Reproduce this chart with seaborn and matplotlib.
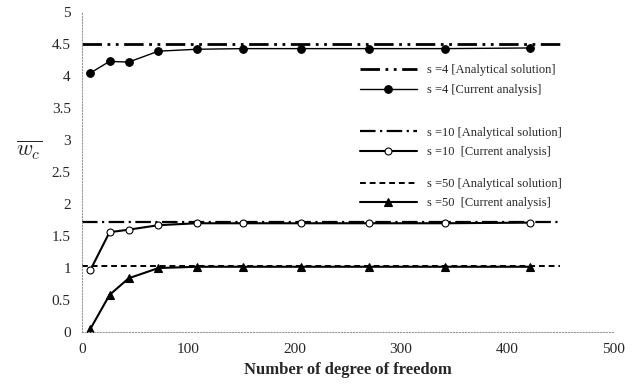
"""Convergence of normalized deflection vs degrees of freedom."""

import matplotlib

matplotlib.use("Agg")
import matplotlib.pyplot as plt
import pandas as pd
import seaborn as sns

dof = [8, 26, 44, 72, 108, 152, 206, 270, 342, 422]
wc_s4 = [4.05, 4.23, 4.22, 4.39, 4.42, 4.43, 4.43, 4.43, 4.43, 4.44]
wc_s10 = [0.97, 1.56, 1.60, 1.67, 1.70, 1.70, 1.70, 1.70, 1.70, 1.71]
wc_s50 = [0.05, 0.58, 0.84, 1.00, 1.02, 1.02, 1.02, 1.02, 1.02, 1.02]

exact_x = [0, 450]
exact_s4 = 4.5
exact_s10 = 1.72
exact_s50 = 1.03

sns.set_style("white")
plt.rcParams["font.family"] = ["Liberation Serif", "DejaVu Serif"]
plt.rcParams["mathtext.fontset"] = "cm"

fig = plt.figure(figsize=(6.4, 3.92), dpi=100)
ax = fig.add_axes([0.128, 0.153, 0.83, 0.816])

series = [
    ("4", exact_s4, wc_s4, (0, (7, 2, 1, 2, 1, 2)), "o", "black", 2.0, 5.5, 1.0),
    ("10", exact_s10, wc_s10, (0, (7, 2, 1, 2)), "o", "white", 1.6, 5.0, 1.5),
    ("50", exact_s50, wc_s50, (0, (3, 2)), "^", "black", 1.4, 5.5, 1.5),
]

groups = []
for s, exact, vals, ls, mk, mfc, lw, ms, cw in series:
    sp = "  " if s != "4" else " "
    sns.lineplot(x=exact_x, y=[exact, exact], ax=ax, color="black",
                 linestyle=ls, linewidth=lw, label="_nolegend_")
    l1 = ax.lines[-1]
    df = pd.DataFrame({"dof": dof, "wc": vals})
    sns.lineplot(data=df, x="dof", y="wc", ax=ax, color="black", linewidth=cw,
                 marker=mk, markersize=ms, markerfacecolor=mfc,
                 markeredgecolor="black", markeredgewidth=0.8,
                 label="_nolegend_")
    l2 = ax.lines[-1]
    groups.append(([l1, l2], [f"s ={s} [Analytical solution]",
                              f"s ={s}{sp}[Current analysis]"]))

ax.set_xlim(0, 500)
ax.set_ylim(0, 5)
ax.set_xticks([0, 100, 200, 300, 400, 500])
ax.set_yticks([0, 0.5, 1, 1.5, 2, 2.5, 3, 3.5, 4, 4.5, 5])
ax.set_yticklabels(["0", "0.5", "1", "1.5", "2", "2.5", "3", "3.5", "4", "4.5", "5"])
ax.tick_params(axis="both", length=0, labelsize=11, pad=8)
ax.set_xlabel("Number of degree of freedom", fontsize=12, fontweight="bold")
ax.set_ylabel(r"$\overline{w_c}$", fontsize=16, rotation=0, labelpad=18)
ax.yaxis.set_label_coords(-0.10, 0.53)

for side in ["top", "right"]:
    ax.spines[side].set_visible(False)
for side in ["left", "bottom"]:
    ax.spines[side].set_linestyle(":")
    ax.spines[side].set_color("#999999")
    ax.spines[side].set_linewidth(0.8)

legend_y = [0.86, 0.665, 0.505]
legends = []
for (handles, labels), y in zip(groups, legend_y):
    leg = ax.legend(handles, labels, loc="upper left", bbox_to_anchor=(0.51, y),
                    frameon=False, fontsize=9, handlelength=4.5,
                    labelspacing=0.6, borderpad=0.1)
    legends.append(leg)
# the last legend stays attached to the axes; add the earlier ones as artists
for leg in legends[:-1]:
    ax.add_artist(leg)

fig.savefig("out.png", dpi=100)
